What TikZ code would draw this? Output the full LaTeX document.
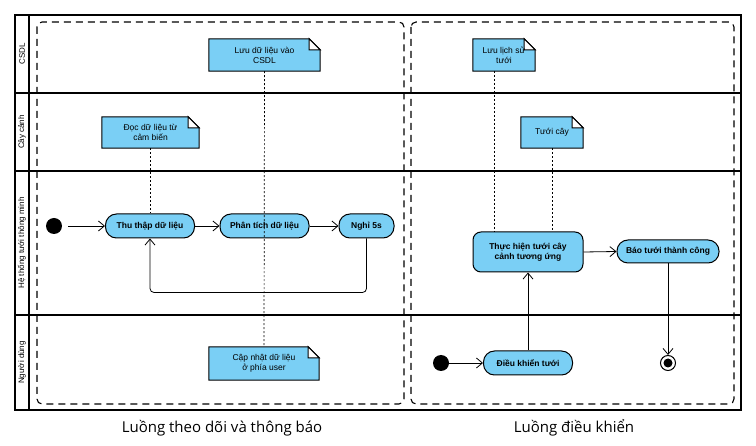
\documentclass[tikz,border=0pt]{standalone}
\usepackage{fontspec}
\setmainfont{Liberation Sans}
\newfontfamily\captionfont{Open Sans}
\usetikzlibrary{positioning,calc,arrows.meta,backgrounds}
\definecolor{actfill}{RGB}{122,207,245}
\tikzstyle{lane} = [line width=1.1pt]
\tikzstyle{lane label} = [rotate=90, font=\fontsize{8}{9}\selectfont]
\tikzstyle{activity} = [draw, fill=actfill, line width=1pt, rounded corners=11pt, minimum height=24pt, inner sep=2pt, align=center, font=\bfseries\fontsize{8.5}{10}\selectfont]
\tikzstyle{note} = [inner sep=1pt, align=center, font=\fontsize{8.5}{10}\selectfont]
\tikzstyle{flow} = [-{Straight Barb[length=6pt,width=10pt]}, line width=0.8pt]
\tikzstyle{anchorline} = [dash pattern=on 2pt off 2pt, line width=0.7pt]
\tikzstyle{region} = [dash pattern=on 7pt off 5pt, line width=1.1pt, rounded corners=5pt]
\tikzstyle{luong} = [font=\captionfont\fontsize{15}{17}\selectfont]
% note outline with folded corner, drawn behind the text
\newcommand{\notebox}[1]{%
  \begin{pgfonlayer}{background}
    \draw[line width=1pt, fill=actfill] (#1.south west) -- (#1.north west) -- ($(#1.north east)+(-11,0)$) -- ($(#1.north east)+(0,11)$) -- (#1.south east) -- cycle;
    \draw[line width=1pt, fill=white] ($(#1.north east)+(-11,0)$) -- ($(#1.north east)+(-11,11)$) -- ($(#1.north east)+(0,11)$) -- cycle;
  \end{pgfonlayer}}

\begin{document}
\begin{tikzpicture}[x=1pt, y=-1pt]
  \useasboundingbox (0,0) rectangle (756,446);

  % swimlanes
  \draw[lane] (15,15) rectangle (741,410);
  \draw[lane] (29,15) -- (29,410);
  \foreach \ly in {93,171,315}
    \draw[lane] (15,\ly) -- (741,\ly);
  \node[lane label] (lblCSDL) at (22,54) {CSDL};
  \node[lane label] (lblCay) at (22,132) {Cây cảnh};
  \node[lane label] (lblHeThong) at (22,243) {Hệ thống tưới thông minh};
  \node[lane label] (lblNguoiDung) at (22,362.5) {Người dùng};

  % two flows
  \draw[region] (37,22) rectangle (404,404);
  \draw[region] (411,22) rectangle (734,404);
  \node[luong] (luongTheoDoi) at (222,428) {Luồng theo dõi và thông báo};
  \node[luong] (luongDieuKhien) at (574,428) {Luồng điều khiển};

  % notes
  \node[note, minimum width=111pt, minimum height=32pt] (noteLuu) at (264.5,55) {Lưu dữ liệu vào\\CSDL};
  \node[note, minimum width=97pt, minimum height=31pt] (noteDoc) at (150.5,132.5) {Đọc dữ liệu từ\\cảm biến};
  \node[note, minimum width=110pt, minimum height=33pt] (noteCapNhat) at (264,363.5) {Cập nhật dữ liệu\\ở phía user};
  \node[note, minimum width=62pt, minimum height=32pt] (noteLichSu) at (504,55) {Lưu lịch sử\\tưới};
  \node[note, minimum width=62pt, minimum height=31pt] (noteTuoi) at (552,132.5) {Tưới cây};
  \foreach \n in {noteLuu,noteDoc,noteCapNhat,noteLichSu,noteTuoi}
    \notebox{\n};

  % monitoring flow
  \node[circle, fill=black, minimum size=16pt, inner sep=0] (batdau1) at (54,226) {};
  \node[activity, minimum width=89pt] (thuthap) at (150,226) {Thu thập dữ liệu};
  \node[activity, minimum width=89pt] (phantich) at (264.5,226) {Phân tích dữ liệu};
  \node[activity, minimum width=55pt] (nghi) at (366.5,226) {Nghỉ 5s};

  % control flow
  \node[circle, fill=black, minimum size=16pt, inner sep=0] (batdau2) at (441,363) {};
  \node[activity, minimum width=89pt] (dieukhien) at (528,363) {Điều khiển tưới};
  \node[activity, minimum width=110pt, minimum height=40pt, rounded corners=8pt] (thuchien) at (528,252) {Thực hiện tưới cây\\cảnh tương ứng};
  \node[activity, minimum width=102pt, minimum height=23pt] (baotuoi) at (668,251.5) {Báo tưới thành công};
  \node[circle, draw, line width=1pt, minimum size=15pt, inner sep=0] (ketthuc) at (668,363) {};
  \node[circle, fill=black, minimum size=9pt, inner sep=0] (ketthucin) at (ketthuc) {};

  % note links
  \coordinate (lsFoot) at (494,71);
  \draw[anchorline] (noteLuu.south) -- (noteCapNhat.north);
  \draw[anchorline] (noteDoc.south) -- (thuthap.north -| noteDoc.south);
  \draw[anchorline] (lsFoot) -- (lsFoot |- thuchien.north);
  \draw[anchorline] (noteTuoi.south) -- (thuchien.north -| noteTuoi.south);

  % transitions
  \draw[flow, shorten <=6pt] (batdau1) -- (thuthap);
  \draw[flow] (thuthap) -- (phantich);
  \draw[flow] (phantich) -- (nghi);
  \draw[flow, rounded corners=4pt] (nghi.south) -- ++(0,54) -| (thuthap.south);
  \draw[flow] (batdau2) -- (dieukhien);
  \draw[flow] (dieukhien.north) -- (thuchien.south);
  \draw[flow] (thuchien.east) -- (baotuoi.west);
  \draw[flow] (baotuoi.south) -- (ketthuc.north);
\end{tikzpicture}
\end{document}
